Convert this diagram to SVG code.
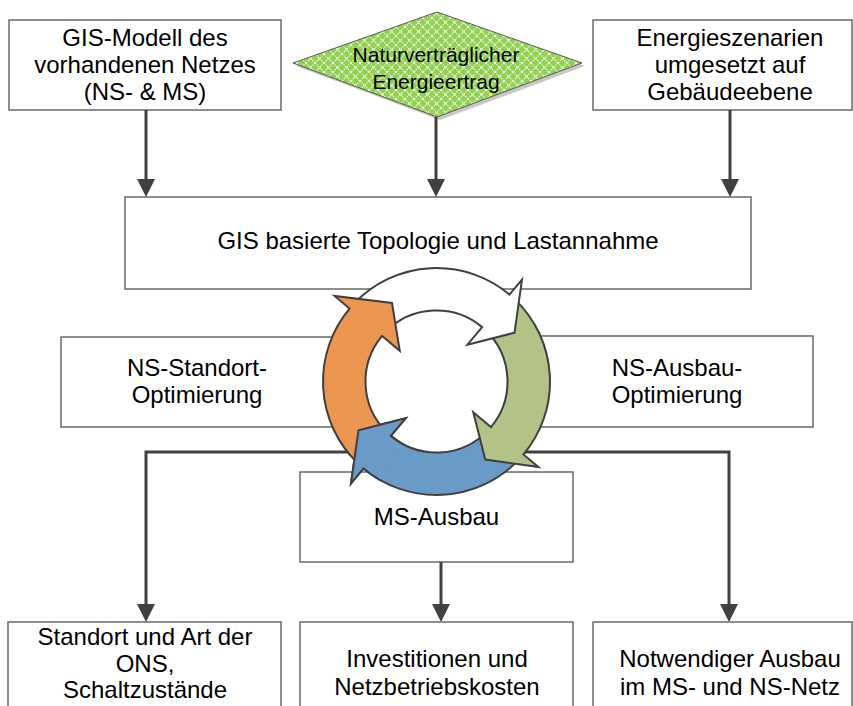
<svg xmlns="http://www.w3.org/2000/svg" width="853" height="706" viewBox="0 0 853 706">
<style>
.box{fill:#fff;stroke:#5f5f5f;stroke-width:1.4}
.t{font-family:"Liberation Sans",Arial,sans-serif;font-size:24px;fill:#000;text-anchor:middle}
.td{font-family:"Liberation Sans",Arial,sans-serif;font-size:21px;fill:#000;text-anchor:middle}
.con{fill:none;stroke:#404040;stroke-width:3;marker-end:url(#ah)}
.arr{stroke:#3f3f3f;stroke-width:2;stroke-linejoin:miter}
</style>
<defs>
<marker id="ah" markerUnits="userSpaceOnUse" markerWidth="18" markerHeight="18" refX="8" refY="9" orient="auto">
<path d="M0,0 L18,9 L0,18 Z" fill="#404040"/>
</marker>
<pattern id="lattice" width="9" height="9" patternUnits="userSpaceOnUse">
<rect width="9" height="9" fill="#92D050"/>
<path d="M0,0 L9,9 M9,0 L0,9" stroke="#fff" stroke-width="1.1" stroke-dasharray="1.3 0.9"/>
</pattern>
<clipPath id="wedge"><polygon points="436.5,381.5 356.5,520.06 310.42,480.01 281.95,422.91"/></clipPath>
<path id="blueArrow" d="M518.15,460.34 A113.5,113.5 0 0 1 363.54,468.45 L351.01,483.38 L358.48,430.25 L405.65,418.27 L390.86,435.89 A71,71 0 0 0 487.57,430.82 Z"/>
</defs>
<rect width="853" height="706" fill="#fff"/>

<g id="gis-modell">
<rect class="box" x="9" y="20" width="272" height="90"/>
<text class="t" x="145" y="46">GIS-Modell des</text>
<text class="t" x="145" y="73">vorhandenen Netzes</text>
<text class="t" x="145" y="100">(NS- &amp; MS)</text>
</g>
<g id="naturvertraeglich">
<polygon points="296,66 440,15 585,66 440,120" fill="#c8c8c8"/>
<polygon points="293,63 437,12 582,63 437,117" fill="url(#lattice)" stroke="#5a5a5a" stroke-width="1"/>
<text class="td" x="436" y="62">Naturverträglicher</text>
<text class="td" x="436" y="89">Energieertrag</text>
</g>
<g id="energieszenarien">
<rect class="box" x="593" y="20" width="259" height="90"/>
<text class="t" x="730" y="46">Energieszenarien</text>
<text class="t" x="730" y="73">umgesetzt auf</text>
<text class="t" x="730" y="100">Gebäudeebene</text>
</g>
<g id="topologie">
<rect class="box" x="125" y="197" width="626" height="92"/>
<text class="t" x="438" y="249">GIS basierte Topologie und Lastannahme</text>
</g>
<g id="ns-standort">
<rect class="box" x="61" y="337" width="272" height="90"/>
<text class="t" x="197" y="376">NS-Standort-</text>
<text class="t" x="197" y="403">Optimierung</text>
</g>
<g id="ns-ausbau">
<rect class="box" x="541" y="336" width="272" height="91"/>
<text class="t" x="677" y="376">NS-Ausbau-</text>
<text class="t" x="677" y="403">Optimierung</text>
</g>
<g id="ms-ausbau">
<rect class="box" x="300" y="472" width="273" height="90"/>
<text class="t" x="436.5" y="525">MS-Ausbau</text>
</g>
<g id="standort-ons">
<rect class="box" x="8" y="622" width="273" height="100"/>
<text class="t" x="145" y="645">Standort und Art der</text>
<text class="t" x="145" y="672">ONS,</text>
<text class="t" x="145" y="698">Schaltzustände</text>
</g>
<g id="investitionen">
<rect class="box" x="300" y="622" width="273" height="100"/>
<text class="t" x="437" y="667">Investitionen und</text>
<text class="t" x="437" y="695">Netzbetriebskosten</text>
</g>
<g id="notwendiger-ausbau">
<rect class="box" x="593" y="622" width="259" height="100"/>
<text class="t" x="730" y="667">Notwendiger Ausbau</text>
<text class="t" x="730" y="695">im MS- und NS-Netz</text>
</g>

<g id="connectors">
<path class="con" d="M146,110 V187"/>
<path class="con" d="M436,117 V187"/>
<path class="con" d="M730,110 V187"/>
<path class="con" d="M437,452 H146 V612"/>
<path class="con" d="M437,452 H729 V612"/>
<path class="con" d="M441,562 V612"/>
</g>

<g id="cycle">
<circle cx="436.5" cy="381.5" r="71" fill="#fff"/>
<use href="#blueArrow" class="arr" fill="#6A9BC7"/>
<path class="arr" fill="#B3C287" d="M515.34,299.85 A113.5,113.5 0 0 1 523.45,454.46 L538.38,466.99 L485.25,459.52 L473.27,412.35 L490.89,427.14 A71,71 0 0 0 485.82,330.43 Z"/>
<path class="arr" fill="#fff" d="M354.85,302.66 A113.5,113.5 0 0 1 509.46,294.55 L521.99,279.62 L514.52,332.75 L467.35,344.73 L482.14,327.11 A71,71 0 0 0 385.43,332.18 Z"/>
<path class="arr" fill="#EB9752" d="M357.66,463.15 A113.5,113.5 0 0 1 349.55,308.54 L334.62,296.01 L392,303 L399.73,350.65 L382.11,335.86 A71,71 0 0 0 387.18,432.57 Z"/>
<use href="#blueArrow" class="arr" fill="#6A9BC7" clip-path="url(#wedge)"/>
</g>
</svg>
